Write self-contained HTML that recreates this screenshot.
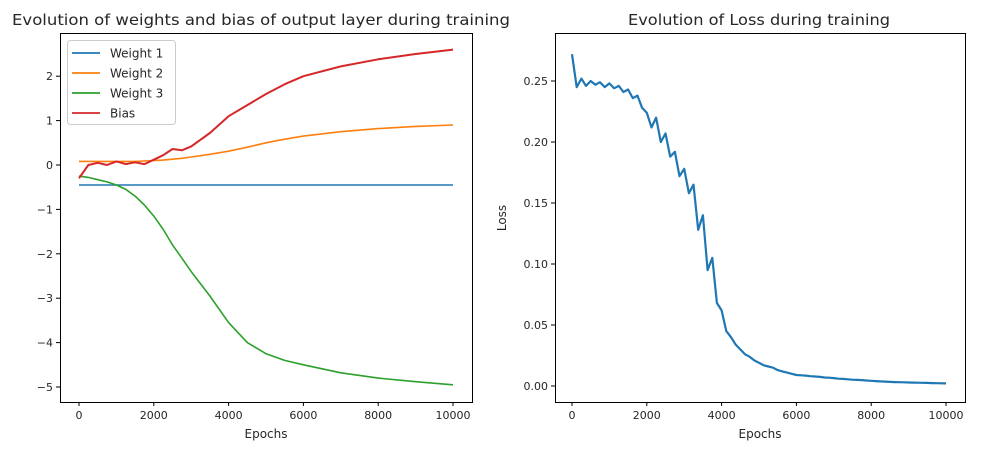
<!DOCTYPE html>
<html><head><meta charset="utf-8"><style>
body{margin:0;background:#fff;}
svg text{font-family:"DejaVu Sans","Liberation Sans",sans-serif;fill:#262626;}
</style></head><body>
<svg id="c" width="981" height="449" xmlns="http://www.w3.org/2000/svg"></svg>
<script>
const epochsW=[0,250,500,750,1000,1250,1500,1750,2000,2250,2500,2750,3000,3500,4000,4500,5000,5500,6000,7000,8000,9000,10000];
const weight1=[-0.45,-0.45,-0.45,-0.45,-0.45,-0.45,-0.45,-0.45,-0.45,-0.45,-0.45,-0.45,-0.45,-0.45,-0.45,-0.45,-0.45,-0.45,-0.45,-0.45,-0.45,-0.45,-0.45];
const weight2=[0.08,0.08,0.08,0.08,0.08,0.08,0.08,0.09,0.1,0.11,0.13,0.15,0.18,0.24,0.31,0.4,0.5,0.58,0.65,0.75,0.82,0.87,0.9];
const weight3=[-0.25,-0.28,-0.33,-0.38,-0.45,-0.55,-0.7,-0.9,-1.15,-1.45,-1.8,-2.1,-2.4,-2.95,-3.55,-4.0,-4.25,-4.4,-4.5,-4.68,-4.8,-4.88,-4.95];
const bias=[-0.3,0.0,0.05,0.0,0.08,0.02,0.06,0.02,0.12,0.22,0.36,0.33,0.42,0.72,1.1,1.35,1.6,1.82,2.0,2.22,2.38,2.5,2.6];
const lossEpochStep=125;
const loss=[0.272,0.245,0.252,0.246,0.250,0.247,0.249,0.245,0.248,0.244,0.246,0.241,0.243,0.236,0.238,0.228,0.224,0.212,0.220,0.200,0.207,0.188,0.192,0.172,0.178,0.158,0.165,0.128,0.140,0.095,0.105,0.068,0.062,0.045,0.040,0.034,0.030,0.026,0.024,0.021,0.019,0.017,0.016,0.015,0.013,0.012,0.011,0.010,0.009,0.0088,0.0085,0.008,0.0078,0.0075,0.007,0.0068,0.0065,0.006,0.0058,0.0055,0.0052,0.005,0.0048,0.0045,0.0043,0.004,0.0038,0.0036,0.0034,0.0032,0.0031,0.003,0.0029,0.0028,0.0027,0.0026,0.0025,0.0024,0.0023,0.0022,0.0021];
const xTicks=[0,2000,4000,6000,8000,10000];
const yTicksL=[-5,-4,-3,-2,-1,0,1,2];
const yTicksR=[0,0.05,0.10,0.15,0.20,0.25];
const seriesNames=["Weight 1","Weight 2","Weight 3","Bias"];
const colors=["#1f77b4","#ff7f0e","#2ca02c","#d62728"];

const svg=document.getElementById('c');
const NS="http://www.w3.org/2000/svg";
function el(tag,attrs,parent){const e=document.createElementNS(NS,tag);for(const k in attrs)e.setAttribute(k,attrs[k]);(parent||svg).appendChild(e);return e;}
function txt(s,attrs,parent){const e=el('text',attrs,parent);e.textContent=s;return e;}

const xL=v=>79+(v/10000)*374;
const yL=v=>165-v*44.4;
const xR=v=>572+(v/10000)*374;
const yR=v=>386-(v/0.25)*305;

function axes(x0,x1,y0,y1,name){
  const g=el('g',{});
  
  
  el('rect',{x:x0,y:y0,width:x1-x0,height:y1-y0,fill:'none',stroke:'#000','stroke-width':1},g);
  return g;
}
const gL=axes(60.5,472.5,33.5,402.5,'weights-axes');
const gR=axes(555.5,965.5,33.5,402.5,'loss-axes');

txt('Evolution of weights and bias of output layer during training',{x:12,y:25,'font-size':15,textLength:498,lengthAdjust:'spacingAndGlyphs',});
txt('Evolution of Loss during training',{x:628,y:25,'font-size':15,textLength:262,lengthAdjust:'spacingAndGlyphs',});

xTicks.forEach(t=>{
  const a=el('line',{x1:xL(t),x2:xL(t),y1:402,y2:406,stroke:'#000'});
  
  const l=txt(t,{x:xL(t),y:419,'text-anchor':'middle','font-size':11});
  
  const b=el('line',{x1:xR(t),x2:xR(t),y1:402,y2:406,stroke:'#000'});
  
  const m=txt(t,{x:xR(t),y:419,'text-anchor':'middle','font-size':11});
  
});
yTicksL.forEach(t=>{
  const a=el('line',{x1:56,x2:60,y1:yL(t),y2:yL(t),stroke:'#000'});
  
  const l=txt(t<0?'\u2212'+(-t):t,{x:53,y:yL(t)+4,'text-anchor':'end','font-size':11});
  
});
yTicksR.forEach(t=>{
  const a=el('line',{x1:551,x2:555,y1:yR(t),y2:yR(t),stroke:'#000'});
  
  const l=txt(t.toFixed(2),{x:548,y:yR(t)+4,'text-anchor':'end','font-size':11});
  
});
txt('Epochs',{x:266,y:438,'text-anchor':'middle','font-size':12,});
txt('Epochs',{x:760,y:438,'text-anchor':'middle','font-size':12,});
txt('Loss',{x:0,y:0,'text-anchor':'middle','font-size':12,transform:'translate(506,218) rotate(-90)',});

[weight1,weight2,weight3,bias].forEach((s,i)=>{
  const d=s.map((v,j)=>(j?'L':'M')+xL(epochsW[j]).toFixed(1)+','+yL(v).toFixed(1)).join('');
  const p=el('path',{d:d,fill:'none',stroke:colors[i],'stroke-width':i==3?2:1.6,'stroke-linejoin':'round'});
  
  
});
const dl=loss.map((v,j)=>(j?'L':'M')+xR(j*lossEpochStep).toFixed(1)+','+yR(v).toFixed(1)).join('');
const lp=el('path',{d:dl,fill:'none',stroke:'#1f77b4','stroke-width':2.2,'stroke-linejoin':'round'});



const lg=el('g',{});


el('rect',{x:67.5,y:40.5,width:108,height:84,rx:3,fill:'#fff',stroke:'#ccc'},lg);
seriesNames.forEach((n,i)=>{
  const y=53+i*20;
  const ln=el('line',{x1:72,x2:100,y1:y,y2:y,stroke:colors[i],'stroke-width':1.8},lg);
  
  const t=txt(n,{x:110,y:y+4.5,'font-size':12},lg);
  
});
</script>
</body></html>
